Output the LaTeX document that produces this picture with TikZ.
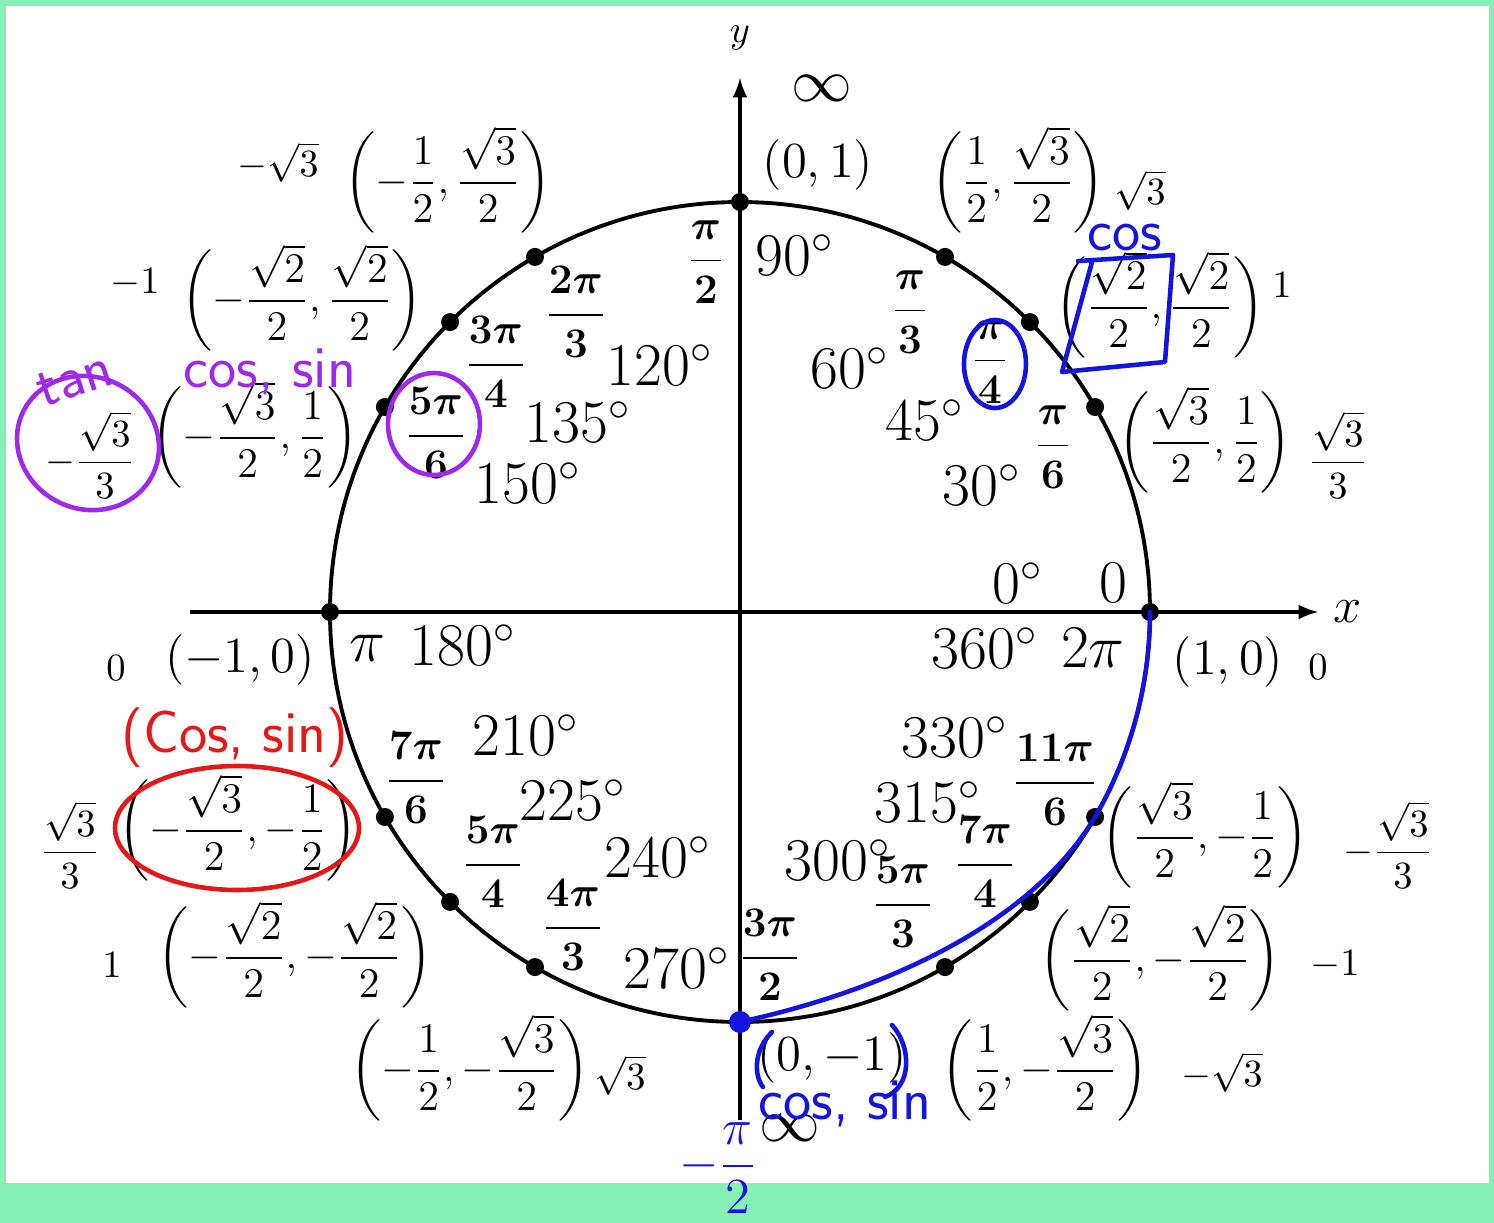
\documentclass[tikz,border=0pt]{standalone}
\usepackage{amsmath}
\usetikzlibrary{positioning}
\usetikzlibrary{calc}
\definecolor{framegreen}{RGB}{134,239,180}
\definecolor{penblue}{RGB}{20,20,225}
\definecolor{penred}{RGB}{228,24,24}
\definecolor{penpurple}{RGB}{158,40,235}

\newcommand{\cpair}[2]{\biggl(#1,#2\biggr)}

\begin{document}
\begin{tikzpicture}[
  lbl/.style={font=\fontsize{16.5}{18}\selectfont, inner sep=0pt},
  ptlbl/.style={font=\fontsize{15}{17}\selectfont, inner sep=0pt},
  pairlbl/.style={font=\fontsize{13}{15}\selectfont, inner sep=0pt},
  radlbl/.style={font=\fontsize{12}{14}\selectfont\boldmath, inner sep=0pt},
  tanval/.style={font=\fontsize{11}{13}\selectfont, inner sep=0pt},
  ptdot/.style={circle, fill=black, inner sep=0pt, minimum size=0.18cm},
  pen/.style={line width=1.3pt, line cap=round, line join=round},
  hand/.style={font=\sffamily\fontsize{17}{19}\selectfont, inner sep=0pt},
]

\def\R{4.1}

%---------------------------------------
% Frame
%---------------------------------------
\fill[framegreen] (-7.40,-6.11) rectangle (7.54,6.12);
\fill[white] (-7.34,-5.71) rectangle (7.49,6.06);
\useasboundingbox (-7.40,-6.11) rectangle (7.54,6.12);

%---------------------------------------
% Axes and circle
%---------------------------------------
\coordinate (xl) at (-5.50,0);
\coordinate (xr) at (5.78,0);
\coordinate (yb) at (0,-5.08);
\coordinate (yt) at (0,5.34);
\draw[line width=0.9pt, -latex] (xl) -- (xr);
\draw[line width=0.9pt, -latex] (yb) -- (yt);
\node[ptlbl] (xlab) at (6.08,0) {$x$};
\node[tanval] (ylab) at (0,5.74) {$y$};

\draw[line width=1.1pt] (0,0) circle (\R);

\foreach \a in {0,30,45,60,90,120,135,150,180,210,225,240,270,300,315,330}
  \node[ptdot] (p\a) at (\a:\R) {};

%---------------------------------------
% Top and bottom
%---------------------------------------
\node[lbl] (inftop) at (0.82,5.24) {$\infty$};
\node[ptlbl] (q90) at (0.78,4.47) {$(0,1)$};
\node[lbl] (d90) at (0.55,3.57) {$90^\circ$};
\node[radlbl] (r90) at (-0.34,3.50) {$\dfrac{\pi}{2}$};

\node[ptlbl] (q270) at (0.92,-4.46) {$(0,-1)$};
\node[lbl] (infbot) at (0.50,-5.16) {$\infty$};
\node[lbl] (d270) at (-0.63,-3.56) {$270^\circ$};
\node[radlbl] (r270) at (0.30,-3.43) {$\dfrac{3\pi}{2}$};

%---------------------------------------
% Quadrant I
%---------------------------------------
\node[pairlbl] (q60) at (2.78,4.32) {$\cpair{\dfrac{1}{2}}{\dfrac{\sqrt{3}}{2}}$};
\node[tanval] (t60) at (4.00,4.22) {$\sqrt{3}$};
\node[radlbl] (r60) at (1.70,3.00) {$\dfrac{\pi}{3}$};
\node[lbl] (d60) at (1.10,2.44) {$60^\circ$};

\node[pairlbl] (q45) at (4.20,3.07) {$\cpair{\dfrac{\sqrt{2}}{2}}{\dfrac{\sqrt{2}}{2}}$};
\node[tanval] (t45) at (5.42,3.27) {$1$};
\node[radlbl] (r45) at (2.50,2.50) {$\dfrac{\pi}{4}$};
\node[lbl] (d45) at (1.85,1.92) {$45^\circ$};

\node[pairlbl] (q30) at (4.65,1.72) {$\cpair{\dfrac{\sqrt{3}}{2}}{\dfrac{1}{2}}$};
\node[tanval] (t30) at (5.98,1.57) {$\dfrac{\sqrt{3}}{3}$};
\node[radlbl] (r30) at (3.13,1.65) {$\dfrac{\pi}{6}$};
\node[lbl] (d30) at (2.42,1.27) {$30^\circ$};

\node[lbl] (d0) at (2.78,0.29) {$0^\circ$};
\node[lbl] (r0) at (3.73,0.29) {$0$};
\node[lbl] (d360) at (2.45,-0.36) {$360^\circ$};
\node[lbl] (r360) at (3.53,-0.36) {$2\pi$};
\node[ptlbl] (q0) at (4.88,-0.50) {$(1,0)$};
\node[tanval] (t0) at (5.78,-0.55) {$0$};

%---------------------------------------
% Quadrant II
%---------------------------------------
\node[tanval] (t120) at (-4.62,4.50) {$-\sqrt{3}$};
\node[pairlbl] (q120) at (-2.92,4.32) {$\cpair{-\dfrac{1}{2}}{\dfrac{\sqrt{3}}{2}}$};
\node[radlbl] (r120) at (-1.64,3.00) {$\dfrac{2\pi}{3}$};
\node[lbl] (d120) at (-0.80,2.47) {$120^\circ$};

\node[tanval] (t135) at (-6.05,3.29) {$-1$};
\node[pairlbl] (q135) at (-4.38,3.14) {$\cpair{-\dfrac{\sqrt{2}}{2}}{\dfrac{\sqrt{2}}{2}}$};
\node[radlbl] (r135) at (-2.44,2.50) {$\dfrac{3\pi}{4}$};
\node[lbl] (d135) at (-1.62,1.90) {$135^\circ$};

\node[tanval] (t150) at (-6.50,1.57) {$-\dfrac{\sqrt{3}}{3}$};
\node[pairlbl] (q150) at (-4.85,1.77) {$\cpair{-\dfrac{\sqrt{3}}{2}}{\dfrac{1}{2}}$};
\node[radlbl] (r150) at (-3.04,1.79) {$\dfrac{5\pi}{6}$};
\node[lbl] (d150) at (-2.12,1.29) {$150^\circ$};

\node[tanval] (t180) at (-6.24,-0.56) {$0$};
\node[ptlbl] (q180) at (-5.00,-0.48) {$(-1,0)$};
\node[lbl] (r180) at (-3.73,-0.36) {$\pi$};
\node[lbl] (d180) at (-2.77,-0.33) {$180^\circ$};

%---------------------------------------
% Quadrant III
%---------------------------------------
\node[lbl] (d210) at (-2.14,-1.23) {$210^\circ$};
\node[radlbl] (r210) at (-3.24,-1.66) {$\dfrac{7\pi}{6}$};
\node[tanval] (t210) at (-6.70,-2.33) {$\dfrac{\sqrt{3}}{3}$};
\node[pairlbl] (q210) at (-5.02,-2.16) {$\cpair{-\dfrac{\sqrt{3}}{2}}{-\dfrac{1}{2}}$};

\node[lbl] (d225) at (-1.67,-1.88) {$225^\circ$};
\node[radlbl] (r225) at (-2.47,-2.50) {$\dfrac{5\pi}{4}$};
\node[tanval] (t225) at (-6.28,-3.53) {$1$};
\node[pairlbl] (q225) at (-4.45,-3.43) {$\cpair{-\dfrac{\sqrt{2}}{2}}{-\dfrac{\sqrt{2}}{2}}$};

\node[lbl] (d240) at (-0.82,-2.45) {$240^\circ$};
\node[radlbl] (r240) at (-1.67,-3.13) {$\dfrac{4\pi}{3}$};
\node[pairlbl] (q240) at (-2.70,-4.56) {$\cpair{-\dfrac{1}{2}}{-\dfrac{\sqrt{3}}{2}}$};
\node[tanval] (t240) at (-1.20,-4.63) {$\sqrt{3}$};

%---------------------------------------
% Quadrant IV
%---------------------------------------
\node[lbl] (d330) at (2.15,-1.25) {$330^\circ$};
\node[radlbl] (r330) at (3.15,-1.68) {$\dfrac{11\pi}{6}$};
\node[pairlbl] (q330) at (4.65,-2.23) {$\cpair{\dfrac{\sqrt{3}}{2}}{-\dfrac{1}{2}}$};
\node[tanval] (t330) at (6.48,-2.33) {$-\dfrac{\sqrt{3}}{3}$};

\node[lbl] (d315) at (1.88,-1.90) {$315^\circ$};
\node[radlbl] (r315) at (2.45,-2.50) {$\dfrac{7\pi}{4}$};
\node[pairlbl] (q315) at (4.20,-3.46) {$\cpair{\dfrac{\sqrt{2}}{2}}{-\dfrac{\sqrt{2}}{2}}$};
\node[tanval] (t315) at (5.95,-3.53) {$-1$};

\node[lbl] (d300) at (0.98,-2.48) {$300^\circ$};
\node[radlbl] (r300) at (1.63,-2.90) {$\dfrac{5\pi}{3}$};
\node[pairlbl] (q300) at (3.05,-4.56) {$\cpair{\dfrac{1}{2}}{-\dfrac{\sqrt{3}}{2}}$};
\node[tanval] (t300) at (4.82,-4.60) {$-\sqrt{3}$};

%---------------------------------------
% Pen notes
%---------------------------------------
% purple
\node[hand, penpurple, rotate=18] (tannote) at (-6.65,2.32) {tan};
\node[hand, penpurple] (cosP) at (-4.70,2.40) {cos, sin};
\draw[pen, penpurple, rotate around={-25:(-6.52,1.69)}] (-6.52,1.69) ellipse (0.72 and 0.66);
\draw[pen, penpurple] (-3.06,1.88) ellipse (0.46 and 0.51);

% blue
\node[hand, penblue] (cosB) at (3.85,3.74) {cos};
\draw[pen, penblue] (3.38,3.51) -- (4.33,3.57) -- (4.25,2.50) -- (3.22,2.40) -- (3.52,3.50);
\draw[pen, penblue] (2.55,2.48) ellipse (0.31 and 0.44);
\draw[pen, penblue] (p0.center) arc[start angle=0, end angle=-30, radius=\R]
  .. controls +(-0.6,-1.0) and (1.6,-3.75) .. (p270.center);
\fill[penblue] (p270) circle (0.11);
\draw[pen, penblue] (0.32,-4.20) .. controls (0.12,-4.40) and (0.15,-4.65) .. (0.23,-4.75);
\draw[pen, penblue] (1.52,-4.13) .. controls (1.72,-4.35) and (1.72,-4.75) .. (1.45,-4.85);
\node[hand, penblue] (cosQ) at (1.05,-4.92) {cos, sin};
\node[font=\fontsize{14}{16}\selectfont, inner sep=0pt, penblue] (halfpi) at (-0.22,-5.56) {$-\dfrac{\pi}{2}$};

% red
\node[hand, penred] (cosR) at (-5.05,-1.26) {(Cos, sin)};
\draw[pen, penred] (-5.03,-2.16) ellipse (1.22 and 0.62);

\end{tikzpicture}
\end{document}
